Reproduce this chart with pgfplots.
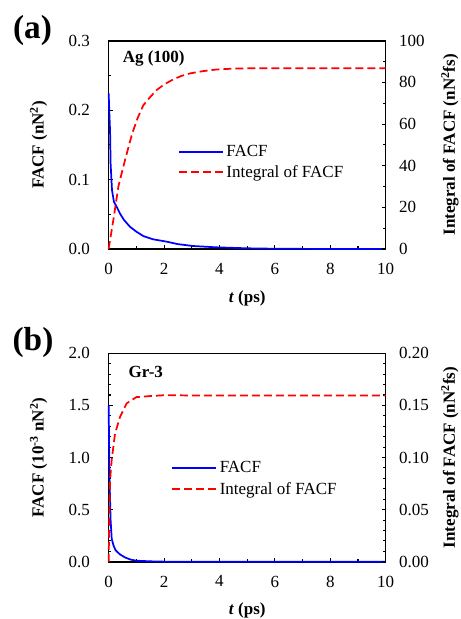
\documentclass[border=0pt]{standalone}
\usepackage{fontspec}
\setmainfont{Liberation Serif}
\usepackage{pgfplots}
\pgfplotsset{compat=1.18}

\pgfplotsset{
  facf/.style={
    scale only axis, width=207.75pt,
    anchor=south west,
    xmin=0, xmax=10, xtick={0,2,...,10}, minor x tick num=1,
    tick align=inside,
    major tick length=3pt, minor tick length=2pt,
    every tick/.style={black, line width=0.8pt},
    axis line style={line width=1.2pt},
    /pgf/number format/assume math mode=true,
    tick label style={font=\fontsize{12.75pt}{15pt}\selectfont},
    label style={font=\fontsize{12.75pt}{15pt}\selectfont\bfseries},
    xticklabel style={yshift=-7pt},
    clip=false,
  },
  facfleft/.style={facf, yticklabel style={xshift=-10.5pt}},
  facfright/.style={
    facf,
    axis x line=none, axis y line*=right,
    yticklabel style={xshift=6.5pt},
  },
}

\begin{document}
\begin{tikzpicture}[font=\fontsize{12.75pt}{15pt}\selectfont]
\useasboundingbox (0,0) rectangle (345.75pt,-464.25pt);

% ---------------- (a) ----------------
\begin{axis}[facfleft, at={(81.5pt,-186.75pt)}, height=156.2pt,
  ymin=0, ymax=0.3, ytick={0,0.1,0.2,0.3}, minor y tick num=1,
  xtick pos=bottom, ytick pos=left,
  yticklabel style={/pgf/number format/.cd, fixed, fixed zerofill, precision=1},
  xlabel={\textit{t} (ps)},
  xlabel style={at={(axis description cs:0.5,-0.235)}, anchor=center},
  ylabel={FACF (nN\textsuperscript{2})},
  ylabel style={at={(axis description cs:-0.253,0.5)}, anchor=center},
  legend style={at={(0.235,0.525)}, anchor=north west, draw=none, fill=none,
    font=\fontsize{12.75pt}{15pt}\selectfont, row sep=1pt},
  legend cell align=left,
  legend image code/.code={\draw[#1] (0pt,0pt) -- (33pt,0pt);},
]
\addplot[blue, line width=1.3pt] coordinates {
 (0,0.224)(0.03,0.19)(0.05,0.171)(0.07,0.123)(0.12,0.085)(0.19,0.068)(0.3,0.06)
 (0.41,0.051)(0.55,0.042)(0.77,0.032)(1.0,0.025)(1.25,0.0187)(1.6,0.014)
 (2.09,0.0106)(2.5,0.007)(3.05,0.0043)(3.9,0.0024)(5,0.001)(6,0.0004)(7,0.0002)(10,0)};
\addlegendentry{FACF}
\addlegendimage{red, line width=1.3pt, dash pattern=on 6pt off 3pt}
\addlegendentry{Integral of FACF}
\node[anchor=west, font=\fontsize{12.75pt}{15pt}\selectfont\bfseries] at (rel axis cs:0.034,0.917) {Ag (100)};
\end{axis}

\begin{axis}[facfright, at={(81.5pt,-186.75pt)}, height=156.2pt,
  ymin=0, ymax=100, ytick={0,20,...,100}, minor y tick num=1,
  ylabel={Integral of FACF (nN\textsuperscript{2}fs)},
  ylabel style={at={(axis description cs:1.232,0.5)}, anchor=center, rotate=0},
]
\addplot[red, line width=1.3pt, dash pattern=on 6pt off 3pt] coordinates {
 (0,0)(0.05,4.3)(0.17,14)(0.35,30)(0.59,42.7)(0.85,55.5)(1.05,63)(1.25,69)
 (1.5,73)(1.73,76.3)(2.0,79)(2.27,81)(2.6,83)(2.93,84.3)(3.4,85.4)(3.9,86.2)
 (4.5,86.6)(5.2,86.8)(6,86.8)(10,86.8)};
\end{axis}

\node[font=\fontsize{25pt}{28pt}\selectfont\bfseries] at (24.4pt,-22.5pt) {(a)};

% ---------------- (b) ----------------
\begin{axis}[facfleft, at={(81.5pt,-421.3pt)}, height=156.3pt,
  ymin=0, ymax=2, ytick={0,0.5,...,2}, minor y tick num=4,
  xtick pos=bottom, ytick pos=left,
  yticklabel style={/pgf/number format/.cd, fixed, fixed zerofill, precision=1},
  xlabel={\textit{t} (ps)},
  xlabel style={at={(axis description cs:0.5,-0.235)}, anchor=center},
  ylabel={FACF (10\textsuperscript{-3} nN\textsuperscript{2})},
  ylabel style={at={(axis description cs:-0.253,0.5)}, anchor=center},
  legend style={at={(0.211,0.51)}, anchor=north west, draw=none, fill=none,
    font=\fontsize{12.75pt}{15pt}\selectfont, row sep=2pt},
  legend cell align=left,
  legend image code/.code={\draw[#1] (0pt,0pt) -- (33pt,0pt);},
]
\addplot[blue, line width=1.3pt] coordinates {
 (0,1.5)(0.02,1.0)(0.04,0.7)(0.07,0.4)(0.11,0.22)(0.17,0.16)(0.25,0.11)
 (0.41,0.07)(0.6,0.04)(0.8,0.02)(1.0,0.01)(1.5,0.004)(2,0.001)(3,0)(10,0)};
\addlegendentry{FACF}
\addlegendimage{red, line width=1.3pt, dash pattern=on 6pt off 3pt}
\addlegendentry{Integral of FACF}
\node[anchor=west, font=\fontsize{12.75pt}{15pt}\selectfont\bfseries] at (rel axis cs:0.055,0.91) {Gr-3};
\end{axis}

\begin{axis}[facfright, at={(81.5pt,-421.3pt)}, height=156.3pt,
  ymin=0, ymax=0.2, ytick={0,0.05,...,0.2}, minor y tick num=4,
  yticklabel style={/pgf/number format/.cd, fixed, fixed zerofill, precision=2},
  ylabel={Integral of FACF (nN\textsuperscript{2}fs)},
  ylabel style={at={(axis description cs:1.232,0.5)}, anchor=center, rotate=0},
]
\addplot[red, line width=1.3pt, dash pattern=on 6pt off 3pt] coordinates {
 (0,0)(0.01,0.02)(0.03,0.05)(0.05,0.078)(0.11,0.098)(0.23,0.123)(0.41,0.139)
 (0.65,0.152)(1.0,0.158)(1.5,0.159)(2,0.1598)(3,0.1596)(10,0.1595)};
\end{axis}

\node[font=\fontsize{25pt}{28pt}\selectfont\bfseries] at (24.75pt,-256.5pt) {(b)};
\end{tikzpicture}
\end{document}
